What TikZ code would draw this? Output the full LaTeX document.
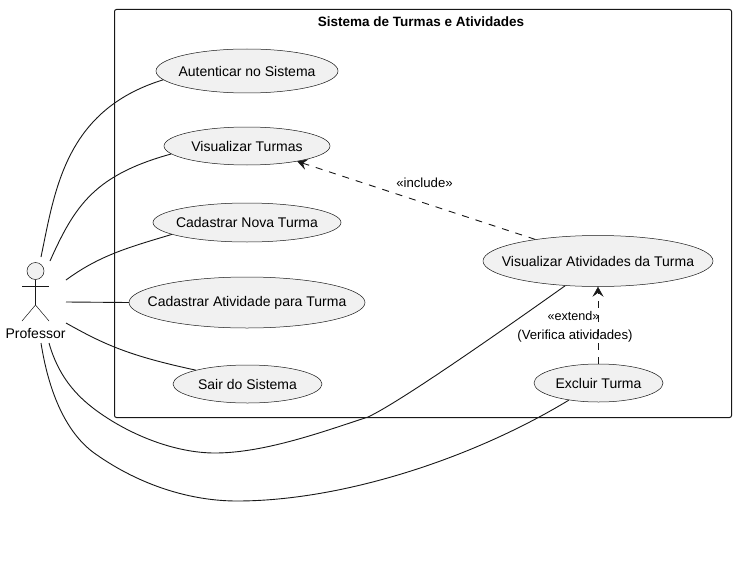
\documentclass[tikz,border=0pt]{standalone}
\usepackage{fontspec}
\setmainfont{Liberation Sans}
\usetikzlibrary{shapes.geometric,arrows.meta}
\definecolor{lineink}{HTML}{181818}
\definecolor{ucfill}{HTML}{F1F1F1}
\newcommand{\uctext}[1]{\makebox[0pt]{\raisebox{-1.5pt}{#1}}}
\tikzset{
  usecase/.style={ellipse,draw=lineink,fill=ucfill,line width=0.5pt,inner sep=0pt,font=\fontsize{14}{16}\selectfont},
  label/.style={inner sep=0pt,text=black,font=\fontsize{13.2}{15}\selectfont},
  link/.style={draw=lineink,line width=0.9pt},
  deplink/.style={link,dash pattern=on 7pt off 7pt,-{Stealth[length=10pt,width=11pt,inset=4pt,line width=0.5pt]}},
  actorline/.style={draw=lineink,line width=0.5pt}
}
\begin{document}
\begin{tikzpicture}[x=1pt,y=-1pt]
\useasboundingbox (0,0) rectangle (735,567);
\fill[white] (0,0) rectangle (735,567);
\node[draw=lineink,line width=1pt,rounded corners=2pt,minimum width=617pt,minimum height=408pt,inner sep=0pt,anchor=north west] (sys) at (114,9) {};
\node[inner sep=0pt,font=\fontsize{13.5}{15}\selectfont\bfseries] (systitle) at (421,22) {Sistema de Turmas e Atividades};
\node[usecase,minimum width=182pt,minimum height=44pt] (auth) at (247,71) {\uctext{Autenticar no Sistema}};
\node[usecase,minimum width=166pt,minimum height=38pt] (vt) at (247,146) {\uctext{Visualizar Turmas}};
\node[usecase,minimum width=188pt,minimum height=39pt] (cnt) at (247,222.5) {\uctext{Cadastrar Nova Turma}};
\node[usecase,minimum width=236pt,minimum height=51pt] (cat) at (247,302.5) {\uctext{Cadastrar Atividade para Turma}};
\node[usecase,minimum width=149pt,minimum height=38pt] (sair) at (247.5,384) {\uctext{Sair do Sistema}};
\node[usecase,minimum width=230pt,minimum height=51pt] (vat) at (598,261) {\uctext{Visualizar Atividades da Turma}};
\node[usecase,minimum width=129pt,minimum height=38pt] (exc) at (598.5,383) {\uctext{Excluir Turma}};
% actor
\node[circle,draw=lineink,fill=ucfill,line width=0.5pt,minimum size=17pt,inner sep=0pt] (head) at (35.5,271) {};
\coordinate (hip) at (35.5,305);
\coordinate (armL) at (22,286);
\coordinate (armR) at (49,286);
\coordinate (legL) at (22,321);
\coordinate (legR) at (49,321);
\draw[actorline] (head.south) -- (hip);
\draw[actorline] (armL) -- (armR);
\draw[actorline] (legL) -- (hip) -- (legR);
\node[inner sep=0pt,font=\fontsize{14}{16}\selectfont] (prof) at (35.5,333.5) {Professor};
% start points
\coordinate (s1) at (41,257);
\coordinate (s2) at (50,261);
\coordinate (s3) at (66,280);
\coordinate (s4) at (66,302);
\coordinate (s5) at (66,323);
\coordinate (s6) at (49,343);
\coordinate (s7) at (41,343);
\coordinate (w1) at (368,417);
\coordinate (w2) at (237,501);
\coordinate (w3) at (215,453);
\draw[link] (s1) .. controls (55,190) and (65,110) .. (auth.186);
\draw[link] (s2) .. controls (75,205) and (95,175) .. (vt.186.6);
\draw[link] (s3) .. controls (100,255) and (130,247) .. (cnt.189.5);
\draw[link] (s4) -- (cat.west);
\draw[link] (s5) .. controls (105,345) and (130,356) .. (sair.165);
\draw[link] (s6) .. controls (58,375) and (75,395) .. (97,411) .. controls (130,435) and (175,453) .. (w3) .. controls (265,453) and (325,431) .. (w1) .. controls (400,402) and (500,332) .. (vat.217.4);
\draw[link] (s7) .. controls (50,400) and (70,437) .. (97,455) .. controls (140,485) and (190,501) .. (w2) .. controls (340,501) and (470,460) .. (exc.210.8);
\draw[deplink] (vat.161.3) -- (vt.-17);
\draw[deplink] (exc.north -| vat.south) -- (vat.south);
\node[label] (inc) at (424.5,183) {«include»};
\node[label,font=\fontsize{12.6}{15}\selectfont] (ext) at (573.5,316) {«extend»};
\node[label] (ver) at (575,336) {(Verifica atividades)};
\end{tikzpicture}
\end{document}
